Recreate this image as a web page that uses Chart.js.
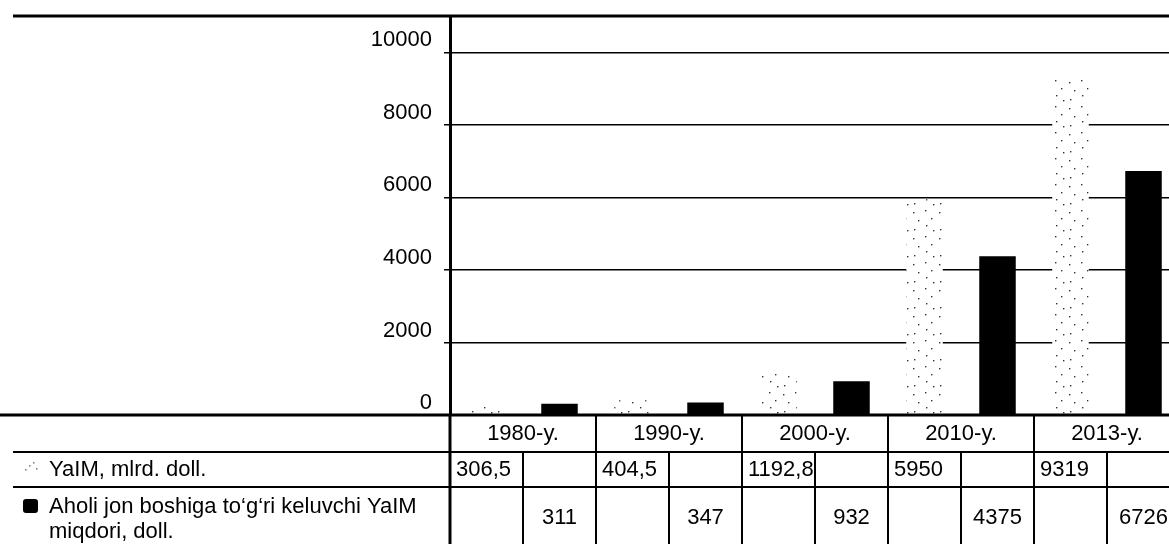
<!DOCTYPE html>
<html>
<head>
<meta charset="utf-8">
<script src="https://cdn.jsdelivr.net/npm/chart.js@4.4.1/dist/chart.umd.min.js"></script>
<style>
    html, body { margin: 0; padding: 0; background: #fff; overflow: hidden; }
    #chartBox { width: 1180px; height: 544px; }
</style>
</head>
<body>
<div id="chartBox"><canvas id="gdpChart" width="1180" height="544"></canvas></div>
<script>
/* Uzbekistan GDP chart with the data table underneath. */
var years = ["1980-y.", "1990-y.", "2000-y.", "2010-y.", "2013-y."];
var gdpValues = [306.5, 404.5, 1192.8, 5950, 9319];
var perCapitaValues = [311, 347, 932, 4375, 6726];
var gdpName = "YaIM, mlrd. doll.";
var perCapitaName = ["Aholi jon boshiga to\u2018g\u2018ri keluvchi YaIM", "miqdori, doll."];
var yTicks = [0, 2000, 4000, 6000, 8000, 10000];
var yMax = 11000;

var FONT = '22px "Liberation Sans", Arial, sans-serif';

// White tile with scattered dots, like the stippled bars of the print.
function makeDotPattern() {
    var tile = document.createElement("canvas");
    tile.width = 26;
    tile.height = 26;
    var t = tile.getContext("2d");
    t.fillStyle = "#fff";
    t.fillRect(0, 0, 26, 26);
    t.fillStyle = "#333";
    var dots = [[3, 4], [15, 2], [21, 10], [8, 12], [16, 17], [4, 21], [23, 22]];
    dots.forEach(function (d) {
        t.fillRect(d[0], d[1], 1.4, 1.4);
    });
    return t.createPattern(tile, "repeat");
}

function hLine(ctx, y, x1, x2, w) {
    ctx.lineWidth = w;
    ctx.beginPath();
    ctx.moveTo(x1, y);
    ctx.lineTo(x2, y);
    ctx.stroke();
}

function vLine(ctx, x, y1, y2, w) {
    ctx.lineWidth = w;
    ctx.beginPath();
    ctx.moveTo(x, y1);
    ctx.lineTo(x, y2);
    ctx.stroke();
}

function fmtComma(v) {
    return String(v).replace(".", ",");
}

// Draws the frame lines and the data table below the plot.
var tablePlugin = {
    id: "dataTable",
    afterDraw: function (chart) {
        var ctx = chart.ctx;
        var area = chart.chartArea;
        var xs = chart.scales.x;
        var colW = xs.width / years.length;
        var base = area.bottom;
        var row2 = base + 37;
        var row3 = base + 72;
        var bottom = chart.height;
        var right = chart.width;

        ctx.save();
        ctx.strokeStyle = "#000";

        hLine(ctx, area.top, 13, right, 3);
        hLine(ctx, base, 0, right, 3);
        hLine(ctx, row2, 13, right, 2);
        hLine(ctx, row3, 13, right, 2);

        vLine(ctx, area.left, base, bottom, 3);
        years.forEach(function (y, i) {
            var c = xs.getPixelForValue(i);
            if (i > 0) vLine(ctx, c - colW / 2, base, bottom, 2);
            vLine(ctx, c, row2, bottom, 2);
        });

        ctx.fillStyle = "#000";
        ctx.font = FONT;
        ctx.textBaseline = "middle";

        years.forEach(function (y, i) {
            var c = xs.getPixelForValue(i);
            ctx.textAlign = "center";
            ctx.fillText(y, c, base + 19);
            ctx.fillText(String(perCapitaValues[i]), c + colW / 4, row3 + 31);
            ctx.textAlign = "left";
            ctx.fillText(fmtComma(gdpValues[i]), c - colW / 2 + 6, row2 + 18);
        });

        // Row captions with their little legend marks.
        ctx.textAlign = "left";
        ctx.fillText(gdpName, 49, row2 + 18);
        ctx.fillText(perCapitaName[0], 49, row3 + 20);
        ctx.fillText(perCapitaName[1], 49, row3 + 45);

        ctx.fillStyle = "#888";
        [[25, 469], [29, 465], [33, 462], [36, 468]].forEach(function (d) {
            ctx.fillRect(d[0], d[1], 1.6, 1.6);
        });
        ctx.fillStyle = "#000";
        ctx.beginPath();
        ctx.roundRect(23, row3 + 12, 15, 14, 3);
        ctx.fill();
        ctx.restore();
    }
};

document.addEventListener("DOMContentLoaded", function () {
    var canvas = document.getElementById("gdpChart");

    new Chart(canvas, {
        type: "bar",
        data: {
            labels: years,
            datasets: [
                {
                    label: gdpName,
                    data: gdpValues,
                    backgroundColor: makeDotPattern(),
                    borderWidth: 0,
                    categoryPercentage: 1,
                    barPercentage: 0.5
                },
                {
                    label: perCapitaName.join(" "),
                    data: perCapitaValues,
                    backgroundColor: "#000",
                    borderWidth: 0,
                    categoryPercentage: 1,
                    barPercentage: 0.5
                }
            ]
        },
        options: {
            responsive: false,
            animation: false,
            layout: { padding: { top: 16, right: 0, bottom: 129, left: 0 } },
            plugins: {
                legend: { display: false },
                tooltip: { enabled: false }
            },
            scales: {
                x: { display: false },
                y: {
                    min: 0,
                    max: yMax,
                    afterBuildTicks: function (s) {
                        s.ticks = yTicks.map(function (v) { return { value: v }; });
                    },
                    ticks: {
                        padding: 12,
                        labelOffset: -12,
                        color: "#000",
                        font: { family: '"Liberation Sans", Arial, sans-serif', size: 22 },
                        callback: function (v) { return String(v); }
                    },
                    grid: { color: "#000", lineWidth: 1.5, tickLength: 6 },
                    border: { color: "#000", width: 3 },
                    afterFit: function (s) {
                        s.width = 450;
                        // labels sit well inside the plot, so no extra room is needed
                        s.paddingTop = 0;
                        s.paddingBottom = 0;
                    }
                }
            }
        },
        plugins: [tablePlugin]
    });
});
</script>
</body>
</html>
